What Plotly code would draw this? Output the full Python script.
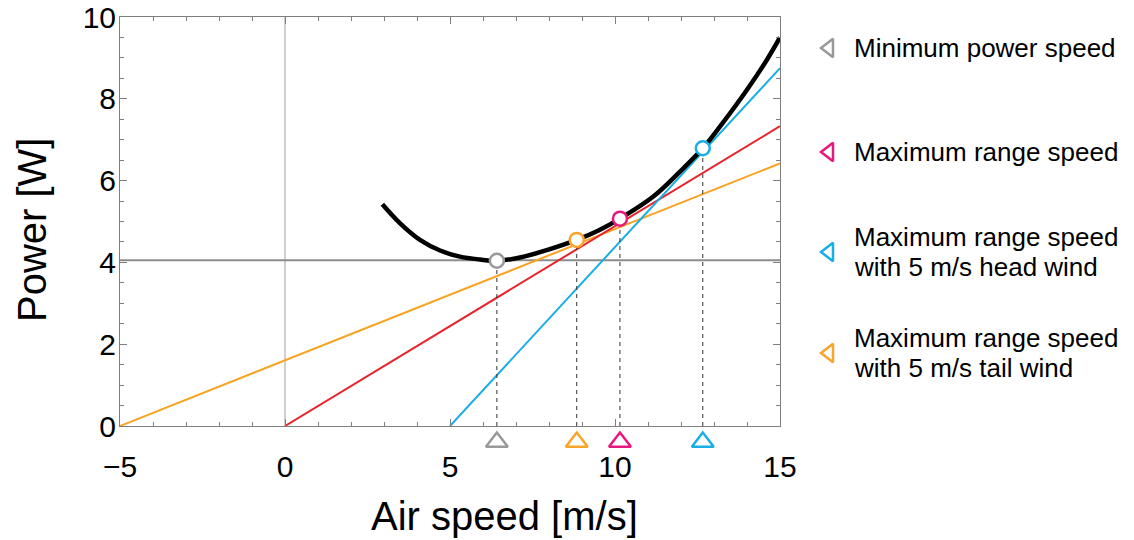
import plotly.graph_objects as go

# ---- data ----
speed = [2.95, 3.48, 4.09, 4.70, 5.30, 5.91, 6.42, 7.12, 7.93, 8.84, 9.5, 10.15,
         11.16, 11.97, 12.66, 13.18, 13.99, 14.6, 15.0]
power = [5.42, 4.96, 4.55, 4.29, 4.14, 4.07, 4.04, 4.12, 4.30, 4.55, 4.78, 5.07,
         5.61, 6.22, 6.79, 7.32, 8.21, 8.95, 9.5]

min_power_level = 4.05

tail_x = [-5, 15]
tail_y = [0, 6.42]
still_x = [0, 15]
still_y = [0, 7.33]
head_x = [5, 15]
head_y = [0, 8.75]

marker_names = ["Minimum power speed",
                "Maximum range speed",
                "Maximum range speed<br>with 5 m/s head wind",
                "Maximum range speed<br>with 5 m/s tail wind"]
marker_speed = [6.42, 10.15, 12.66, 8.84]
marker_power = [4.04, 5.07, 6.79, 4.55]
marker_colors = ["#999999", "#e8197d", "#19aee6", "#f8a52a"]

x_ticks = [-5, 0, 5, 10, 15]
y_ticks = [0, 2, 4, 6, 8, 10]

XR = [-5, 15]
YR = [0, 10]

# ---- layout geometry (page pixels) ----
FONT = "Liberation Sans, Arial, Helvetica, sans-serif"
AX = "#7f7f7f"
W, H = 1134, 540
P_L, P_R, P_T, P_B = 120, 780, 17, 426   # plot area in page pixels


def fx(px):   # page x pixel -> paper fraction
    return px / W


def fy(py):   # page y pixel -> paper fraction
    return 1 - py / H


fig = go.Figure()

# reference lines
fig.add_trace(go.Scatter(x=[0, 0], y=YR, mode="lines",
                         line=dict(color="#a0a0a0", width=1), hoverinfo="skip"))
fig.add_trace(go.Scatter(x=XR, y=[min_power_level, min_power_level], mode="lines",
                         line=dict(color="#8c8c8c", width=2), hoverinfo="skip"))

# tangent lines
fig.add_trace(go.Scatter(x=tail_x, y=tail_y, mode="lines",
                         line=dict(color="#f9a322", width=2), hoverinfo="skip"))
fig.add_trace(go.Scatter(x=still_x, y=still_y, mode="lines",
                         line=dict(color="#e8232b", width=2), hoverinfo="skip"))
fig.add_trace(go.Scatter(x=head_x, y=head_y, mode="lines",
                         line=dict(color="#19aee6", width=2), hoverinfo="skip"))

# dashed drop lines
for sx, sy in zip(marker_speed, marker_power):
    fig.add_trace(go.Scatter(x=[sx, sx], y=[0, sy], mode="lines",
                             line=dict(color="#333333", width=1, dash="4px,4px"),
                             hoverinfo="skip"))

# power curve
fig.add_trace(go.Scatter(x=speed, y=power, mode="lines",
                         line=dict(color="black", width=4.5, shape="spline", smoothing=1.0),
                         hoverinfo="skip"))

# circles on the curve
fig.add_trace(go.Scatter(x=marker_speed, y=marker_power, mode="markers",
                         marker=dict(symbol="circle", size=14, color="white",
                                     line=dict(color=marker_colors, width=2.5)),
                         hoverinfo="skip"))

# triangles below the axis (strip axis sharing the x scale)
fig.add_trace(go.Scatter(x=marker_speed, y=[0] * len(marker_speed), mode="markers",
                         xaxis="x2", yaxis="y2", cliponaxis=False,
                         marker=dict(symbol="triangle-up-open", size=19,
                                     color=marker_colors,
                                     line=dict(color=marker_colors, width=2.5)),
                         hoverinfo="skip"))

# custom legend (markers on a pixel-positioned strip axis)
leg_px_y = [48, 152, 252, 353]
fig.add_trace(go.Scatter(x=[0] * 4, y=leg_px_y, mode="markers",
                         xaxis="x3", yaxis="y3", cliponaxis=False,
                         marker=dict(symbol="triangle-left-open", size=16,
                                     color=marker_colors,
                                     line=dict(color=marker_colors, width=2.5)),
                         hoverinfo="skip"))
for name, p in zip(marker_names, leg_px_y):
    lines = name.split("<br>")
    n = len(lines)
    for i, ln in enumerate(lines):
        yy = p + (i - (n - 1) / 2) * 30
        fig.add_annotation(x=fx(852), y=fy(yy), xref="paper", yref="paper",
                           text=ln, showarrow=False, xanchor="left", yanchor="middle",
                           align="left", font=dict(family=FONT, size=26, color="black"))

# axis titles
fig.add_annotation(x=fx(504), y=fy(516), xref="paper", yref="paper",
                   text="Air speed [m/s]", showarrow=False, xanchor="center",
                   yanchor="middle", font=dict(family=FONT, size=40, color="black"))
fig.add_annotation(x=fx(32), y=fy(230), xref="paper", yref="paper",
                   text="Power [W]", showarrow=False, textangle=-90, xanchor="center",
                   yanchor="middle", font=dict(family=FONT, size=40, color="black"))

xdom = [fx(P_L), fx(P_R)]
ydom = [fy(P_B), fy(P_T)]

fig.update_layout(
    width=W, height=H, margin=dict(l=0, r=0, t=0, b=0),
    showlegend=False, plot_bgcolor="rgba(0,0,0,0)", paper_bgcolor="white",
    xaxis=dict(domain=xdom, range=XR, tickvals=x_ticks, showgrid=False, zeroline=False,
               showline=True, linecolor=AX, linewidth=1, mirror="ticks",
               ticks="inside", ticklen=7, tickcolor=AX, tickwidth=1, automargin=False,
               minor=dict(dtick=1, ticks="inside", ticklen=4, tickcolor=AX, showgrid=False),
               tickfont=dict(family=FONT, size=30, color="black"),
               ticklabelstandoff=14, ticklabeloverflow="allow"),
    yaxis=dict(domain=ydom, range=YR, tickvals=y_ticks, showgrid=False, zeroline=False,
               showline=True, linecolor=AX, linewidth=1, mirror="ticks",
               ticks="inside", ticklen=7, tickcolor=AX, tickwidth=1, automargin=False,
               minor=dict(dtick=0.5, ticks="inside", ticklen=4, tickcolor=AX, showgrid=False),
               tickfont=dict(family=FONT, size=30, color="black"),
               ticklabelstandoff=-3, ticklabeloverflow="allow"),
    xaxis2=dict(matches="x", domain=xdom, anchor="y2", visible=False, automargin=False),
    yaxis2=dict(domain=[fy(452), fy(432)], range=[-1, 1], anchor="x2", visible=False,
                automargin=False),
    xaxis3=dict(domain=[fx(809), fx(849)], range=[-1, 1], anchor="y3", visible=False,
                automargin=False),
    yaxis3=dict(domain=[0, 1], range=[H, 0], anchor="x3", visible=False, automargin=False),
)

fig.write_html(
    "out.html",
    config={"displayModeBar": False, "staticPlot": True},
    post_script="document.body.style.margin='0';document.body.style.overflow='hidden';",
)
